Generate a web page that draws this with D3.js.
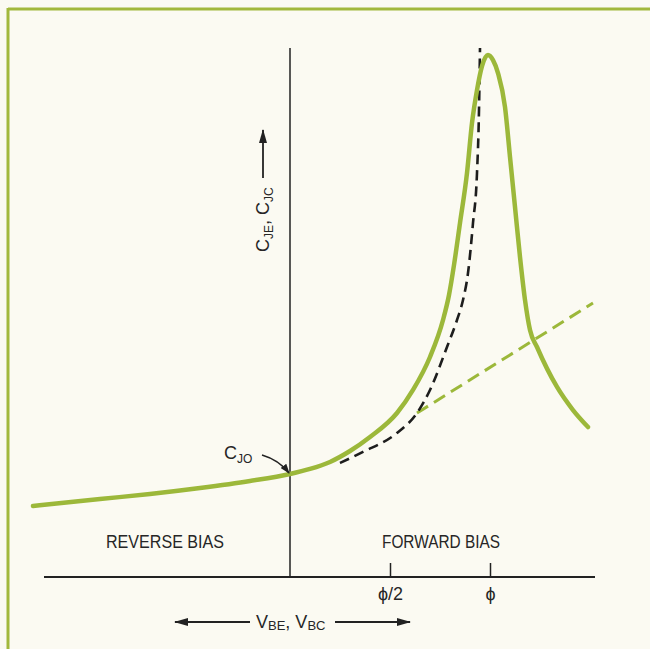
<!DOCTYPE html>
<html>
<head>
<meta charset="utf-8">
<script src="https://cdn.jsdelivr.net/npm/d3@7"></script>
<style>
  html, body { margin: 0; padding: 0; background: #fbfaf2; }
  svg { display: block; }
  text { font-family: "Liberation Sans", Roboto, sans-serif; fill: #262626; }
</style>
</head>
<body>
<svg id="chart" width="650" height="649"></svg>
<script>
// ---- data (x in units of phi, y in units of C_J0) ----
const greenX = [-1.285, -0.95, -0.70, -0.45, -0.20, 0.0, 0.10, 0.20, 0.30, 0.40, 0.535, 0.615, 0.70, 0.765, 0.795, 0.82, 0.85, 0.885, 0.91, 0.935, 0.96, 0.99, 1.015, 1.04, 1.075, 1.10, 1.125, 1.15, 1.175, 1.20, 1.235, 1.335, 1.415, 1.49];
const greenY = [0.689, 0.757, 0.806, 0.864, 0.932, 1.0, 1.049, 1.117, 1.223, 1.359, 1.592, 1.816, 2.136, 2.495, 2.738, 3.029, 3.437, 3.922, 4.408, 4.728, 4.961, 5.068, 5.019, 4.893, 4.563, 4.078, 3.592, 3.107, 2.689, 2.398, 2.233, 1.845, 1.621, 1.456];
const idealX = [0.25, 0.365, 0.535, 0.635, 0.70, 0.785, 0.835, 0.865, 0.89, 0.915, 0.935, 0.945, 0.95];
const idealY = [1.107, 1.214, 1.398, 1.592, 1.816, 2.233, 2.495, 2.689, 2.951, 3.437, 3.922, 4.534, 5.136];
const asymX = [0.635, 1.515];
const asymY = [1.592, 2.660];
const tickValues = [0.5, 1.0];
const tickLabels = ["ϕ/2", "ϕ"];
const regionLabels = ["REVERSE BIAS", "FORWARD BIAS"];
const regionX = [-0.625, 0.755];

const svg = d3.select("#chart");
const green = "#9cb83a";

// frame (top and left rules)
svg.append("line").attr("x1", 8).attr("y1", 9).attr("x2", 650).attr("y2", 9)
  .attr("stroke", "#a2b83c").attr("stroke-width", 3);
svg.append("line").attr("x1", 8).attr("y1", 8).attr("x2", 8).attr("y2", 649)
  .attr("stroke", "#a2b83c").attr("stroke-width", 3);

const x = d3.scaleLinear().domain([0, 1]).range([290, 490]);
const y = d3.scaleLinear().domain([0, 1]).range([577, 474]);

const defs = svg.append("defs");
defs.append("marker").attr("id", "arr").attr("viewBox", "0 0 14 8")
  .attr("refX", 13).attr("refY", 4).attr("markerWidth", 14).attr("markerHeight", 8)
  .attr("markerUnits", "userSpaceOnUse").attr("orient", "auto-start-reverse")
  .append("path").attr("d", "M0,0 L14,4 L0,8 Z").attr("fill", "#222");
defs.append("marker").attr("id", "arrS").attr("viewBox", "0 0 10 7")
  .attr("refX", 9).attr("refY", 3.5).attr("markerWidth", 10).attr("markerHeight", 7)
  .attr("markerUnits", "userSpaceOnUse").attr("orient", "auto")
  .append("path").attr("d", "M0,0 L10,3.5 L0,7 Z").attr("fill", "#222");

// x axis
const xAxis = d3.axisBottom(x).tickValues(tickValues).tickFormat((d, i) => tickLabels[i])
  .tickSizeInner(-14).tickSizeOuter(0).tickPadding(10);
const gx = svg.append("g").attr("transform", "translate(0,577)").call(xAxis);
gx.select(".domain").remove();
gx.selectAll(".tick line").attr("stroke", "#222").attr("stroke-width", 1.5);
gx.selectAll(".tick text").attr("font-size", 18).style("font-family", "'Liberation Sans',sans-serif").attr("fill", "#262626");
svg.append("line").attr("x1", x(-1.23)).attr("x2", x(1.525)).attr("y1", y(0)).attr("y2", y(0))
  .attr("stroke", "#222").attr("stroke-width", 2);

// y axis
svg.append("line").attr("x1", x(0)).attr("x2", x(0)).attr("y1", y(0)).attr("y2", y(5.136))
  .attr("stroke", "#222").attr("stroke-width", 1.5);

// region labels
svg.selectAll("text.region").data(regionLabels).join("text").attr("class", "region")
  .attr("x", (d, i) => x(regionX[i])).attr("y", 548).attr("text-anchor", "middle")
  .attr("font-size", 18).attr("textLength", 118).attr("lengthAdjust", "spacingAndGlyphs").text(d => d);

// curves
const line = d3.line().x(d => x(d[0])).y(d => y(d[1])).curve(d3.curveMonotoneX);
const straight = d3.line().x(d => x(d[0])).y(d => y(d[1]));
svg.append("path").datum(asymX.map((v, i) => [v, asymY[i]])).attr("d", straight)
  .attr("fill", "none").attr("stroke", green).attr("stroke-width", 3).attr("stroke-dasharray", "13,7");
svg.append("path").datum(idealX.map((v, i) => [v, idealY[i]])).attr("d", line)
  .attr("fill", "none").attr("stroke", "#1d1d1d").attr("stroke-width", 2.6).attr("stroke-dasharray", "10,6");
svg.append("path").datum(greenX.map((v, i) => [v, greenY[i]])).attr("d", line)
  .attr("fill", "none").attr("stroke", green).attr("stroke-width", 4.5)
  .attr("stroke-linecap", "round").attr("stroke-linejoin", "round");

// C_JO label and arrow
const cj = svg.append("text").attr("x", 224).attr("y", 459).attr("font-size", 18);
cj.append("tspan").text("C");
cj.append("tspan").attr("font-size", 12).attr("dy", 4).text("JO");
svg.append("path").attr("d", `M262,455 Q279,460 ${x(0) - 1},${y(1) - 1}`)
  .attr("fill", "none").attr("stroke", "#222").attr("stroke-width", 1.6).attr("marker-end", "url(#arrS)");

// y label
const yl = svg.append("g").attr("transform", "translate(269,252) rotate(-90)");
const yt = yl.append("text").attr("x", 0).attr("y", 0).attr("font-size", 18);
yt.append("tspan").text("C");
yt.append("tspan").attr("font-size", 12).attr("dy", 4).text("JE");
yt.append("tspan").attr("dy", -4).text(", C");
yt.append("tspan").attr("font-size", 12).attr("dy", 4).text("JC");
svg.append("line").attr("x1", 263).attr("x2", 263).attr("y1", 178).attr("y2", 130)
  .attr("stroke", "#222").attr("stroke-width", 1.8).attr("marker-end", "url(#arr)");

// x label
const xl = svg.append("text").attr("x", 256).attr("y", 628).attr("font-size", 18);
xl.append("tspan").text("V");
xl.append("tspan").attr("font-size", 13).attr("dy", 2).text("BE");
xl.append("tspan").attr("dy", -2).text(", V");
xl.append("tspan").attr("font-size", 13).attr("dy", 2).text("BC");
svg.append("line").attr("x1", 250).attr("x2", 175).attr("y1", 622).attr("y2", 622)
  .attr("stroke", "#222").attr("stroke-width", 1.8).attr("marker-end", "url(#arr)");
svg.append("line").attr("x1", 335).attr("x2", 410).attr("y1", 622).attr("y2", 622)
  .attr("stroke", "#222").attr("stroke-width", 1.8).attr("marker-end", "url(#arr)");
</script>
</body>
</html>
